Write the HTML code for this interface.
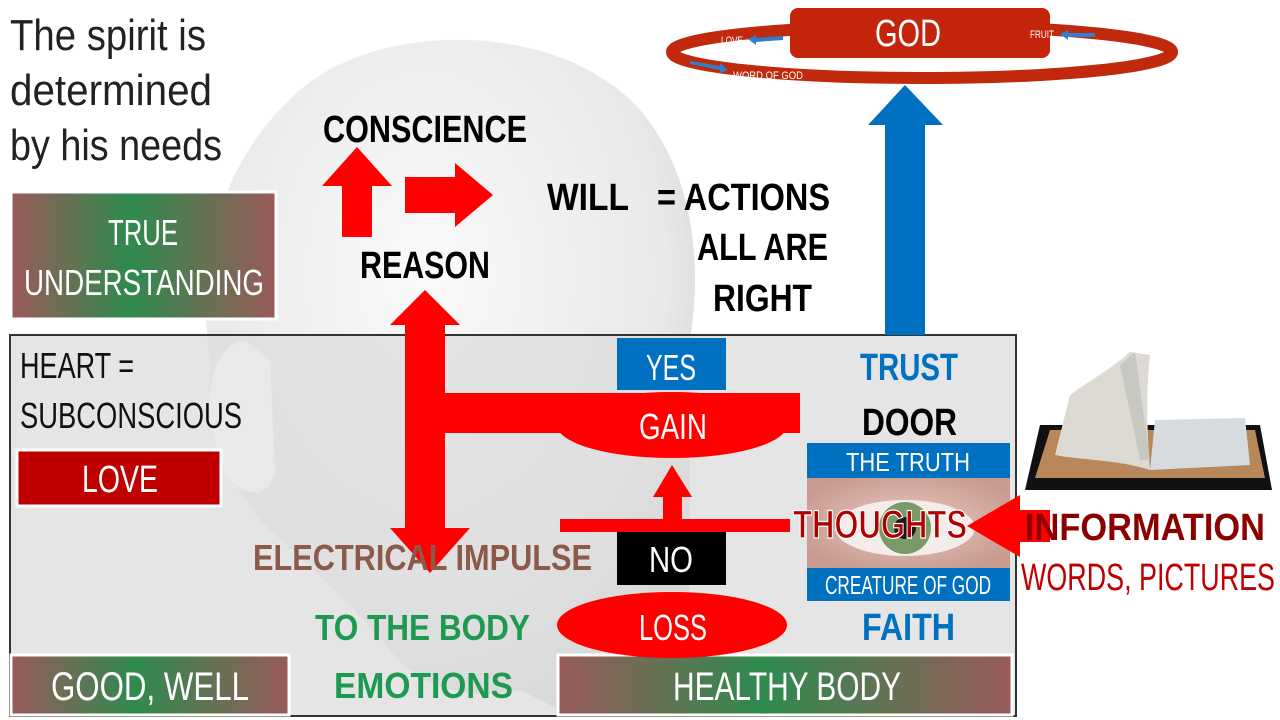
<!DOCTYPE html>
<html><head><meta charset="utf-8"><style>
html,body{margin:0;padding:0;background:#fff;width:1280px;height:720px;overflow:hidden}
svg{display:block}
text{font-family:"Liberation Sans",sans-serif}
</style></head><body>
<svg width="1280" height="720" viewBox="0 0 1280 720" xmlns="http://www.w3.org/2000/svg">
<defs>
<radialGradient id="head" cx="0.45" cy="0.35" r="0.7">
<stop offset="0" stop-color="#fafafa"/><stop offset="0.7" stop-color="#e8e8e8"/><stop offset="1" stop-color="#cfcfcf"/>
</radialGradient>
<linearGradient id="rg" x1="0" y1="0" x2="1" y2="0">
<stop offset="0" stop-color="#9a5a5a"/><stop offset="0.45" stop-color="#2e8a4e"/><stop offset="1" stop-color="#9a5a5a"/>
</linearGradient>
<radialGradient id="eye" cx="0.5" cy="0.5" r="0.6">
<stop offset="0" stop-color="#e8c8c0"/><stop offset="1" stop-color="#c89a90"/>
</radialGradient>
</defs>
<path d="M300,90 C380,20 560,20 640,110 C700,180 700,280 690,340 L690,700 L560,710 L520,690 C470,700 420,690 390,650 C330,580 300,560 260,520 C220,470 205,420 210,360 C195,260 220,160 300,90 Z" fill="url(#head)"/>
<rect x="10" y="335" width="1006" height="381" fill="#dcdcdc" fill-opacity="0.75" stroke="#333" stroke-width="2"/>
<path d="M245,340 C205,345 200,420 225,470 C240,500 270,500 275,470 L270,360 Z" fill="#ebebeb" fill-opacity="0.8"/>

<g fill="#222" font-size="44">
<text x="10" y="50" textLength="196" lengthAdjust="spacingAndGlyphs">The spirit is</text>
<text x="10" y="105" textLength="202" lengthAdjust="spacingAndGlyphs">determined</text>
<text x="10" y="160" textLength="212" lengthAdjust="spacingAndGlyphs">by his needs</text>
</g>
<rect x="11" y="192" width="265" height="127" fill="url(#rg)" stroke="#fff" stroke-width="3"/>
<text x="143" y="245" fill="#fff" font-size="36" text-anchor="middle" textLength="70" lengthAdjust="spacingAndGlyphs">TRUE</text>
<text x="144" y="295" fill="#fff" font-size="36" text-anchor="middle" textLength="240" lengthAdjust="spacingAndGlyphs">UNDERSTANDING</text>

<text x="20" y="378" fill="#111" font-size="36" textLength="114" lengthAdjust="spacingAndGlyphs">HEART =</text>
<text x="20" y="428" fill="#111" font-size="36" textLength="222" lengthAdjust="spacingAndGlyphs">SUBCONSCIOUS</text>
<rect x="17" y="450" width="204" height="56" fill="#c00000" stroke="#fff" stroke-width="3"/>
<text x="120" y="492" fill="#fff" font-size="38" text-anchor="middle" textLength="76" lengthAdjust="spacingAndGlyphs">LOVE</text>

<rect x="11" y="655" width="278" height="60" fill="url(#rg)" stroke="#fff" stroke-width="3"/>
<text x="150" y="700" fill="#fff" font-size="40" text-anchor="middle" textLength="198" lengthAdjust="spacingAndGlyphs">GOOD, WELL</text>
<rect x="558" y="655" width="454" height="60" fill="url(#rg)" stroke="#fff" stroke-width="3"/>
<text x="787" y="700" fill="#fff" font-size="40" text-anchor="middle" textLength="228" lengthAdjust="spacingAndGlyphs">HEALTHY BODY</text>

<g font-weight="bold" fill="#000" font-size="38">
<text x="323" y="142" textLength="204" lengthAdjust="spacingAndGlyphs">CONSCIENCE</text>
<text x="547" y="210" textLength="82" lengthAdjust="spacingAndGlyphs">WILL</text>
<text x="657" y="210" textLength="173" lengthAdjust="spacingAndGlyphs">= ACTIONS</text>
<text x="697" y="260" textLength="131" lengthAdjust="spacingAndGlyphs">ALL ARE</text>
<text x="713" y="311" textLength="99" lengthAdjust="spacingAndGlyphs">RIGHT</text>
<text x="360" y="278" textLength="130" lengthAdjust="spacingAndGlyphs">REASON</text>
</g>
<g fill="#f00">
<polygon points="357,147 392,186 372,186 372,237 342,237 342,186 322,186"/>
<polygon points="405,177 455,177 455,163 493,195 455,227 455,213 405,213"/>
<polygon points="425,290 460,325 445,325 445,393 405,393 405,325 390,325"/>
<polygon points="405,393 445,393 445,528 470,528 430,573 390,528 405,528"/>
<rect x="405" y="393" width="395" height="40"/>
<ellipse cx="672" cy="425" rx="115" ry="33"/>
<polygon points="672,465 692,497 682,497 682,520 663,520 663,497 653,497"/>
<rect x="560" y="519" width="230" height="13"/>
<ellipse cx="672" cy="625" rx="115" ry="33"/>
</g>
<rect x="617" y="338" width="109" height="52" fill="#0070c0"/>
<text x="671" y="380" fill="#fff" font-size="36" text-anchor="middle" textLength="50" lengthAdjust="spacingAndGlyphs">YES</text>
<text x="673" y="439" fill="#fff" font-size="36" text-anchor="middle" textLength="68" lengthAdjust="spacingAndGlyphs">GAIN</text>
<rect x="617" y="532" width="109" height="53" fill="#000"/>
<text x="671" y="572" fill="#fff" font-size="36" text-anchor="middle" textLength="44" lengthAdjust="spacingAndGlyphs">NO</text>
<text x="673" y="640" fill="#fff" font-size="36" text-anchor="middle" textLength="68" lengthAdjust="spacingAndGlyphs">LOSS</text>

<text x="253" y="570" fill="#8b5a48" font-weight="bold" font-size="36" textLength="339" lengthAdjust="spacingAndGlyphs">ELECTRICAL IMPULSE</text>
<text x="315" y="640" fill="#1e9a50" font-weight="bold" font-size="36" textLength="215" lengthAdjust="spacingAndGlyphs">TO THE BODY</text>
<text x="334" y="698" fill="#1e9a50" font-weight="bold" font-size="36" textLength="179" lengthAdjust="spacingAndGlyphs">EMOTIONS</text>

<text x="860" y="380" fill="#0070c0" font-weight="bold" font-size="38" textLength="98" lengthAdjust="spacingAndGlyphs">TRUST</text>
<text x="862" y="435" fill="#000" font-weight="bold" font-size="38" textLength="95" lengthAdjust="spacingAndGlyphs">DOOR</text>
<text x="862" y="640" fill="#0070c0" font-weight="bold" font-size="38" textLength="93" lengthAdjust="spacingAndGlyphs">FAITH</text>
<rect x="807" y="478" width="203" height="90" fill="url(#eye)"/>
<ellipse cx="905" cy="528" rx="70" ry="28" fill="#f3ece8"/>
<circle cx="905" cy="528" r="26" fill="#7a9a6a"/>
<circle cx="905" cy="528" r="11" fill="#1a1a1a"/>
<rect x="807" y="443" width="203" height="35" fill="#0070c0"/>
<text x="908" y="471" fill="#fff" font-size="26" text-anchor="middle" textLength="124" lengthAdjust="spacingAndGlyphs">THE TRUTH</text>
<rect x="807" y="568" width="203" height="33" fill="#0070c0"/>
<text x="908" y="594" fill="#fff" font-size="26" text-anchor="middle" textLength="166" lengthAdjust="spacingAndGlyphs">CREATURE OF GOD</text>
<polygon points="967,526 1020,495 1020,510 1050,510 1050,542 1020,542 1020,557" fill="#f00"/>
<text x="793" y="538" fill="#b00000" stroke="#fff" stroke-width="1.2" font-weight="bold" font-size="40" textLength="174" lengthAdjust="spacingAndGlyphs">THOUGHTS</text>

<text x="1025" y="540" fill="#8b0000" font-weight="bold" font-size="38" textLength="240" lengthAdjust="spacingAndGlyphs">INFORMATION</text>
<text x="1021" y="590" fill="#c00000" font-size="38" textLength="254" lengthAdjust="spacingAndGlyphs">WORDS, PICTURES</text>

<path d="M1025,490 L1040,425 L1260,425 L1272,490 Z" fill="#111"/>
<path d="M1035,478 L1050,430 L1255,430 L1265,478 Z" fill="#b8875a"/>
<path d="M1150,470 L1155,420 L1245,418 L1250,465 Z" fill="#d6dbe0"/>
<path d="M1150,470 C1120,460 1080,460 1055,455 L1070,395 C1090,380 1110,370 1130,352 L1150,355 C1145,400 1148,440 1150,470 Z" fill="#dcdad2"/>
<path d="M1140,460 L1120,365 L1135,352 L1150,460 Z" fill="#c8c8c2"/>

<polygon points="905,85 943,125 925,125 925,335 885,335 885,125 868,125" fill="#0070c0"/>

<ellipse cx="922" cy="52" rx="250" ry="26" fill="none" stroke="#c0290b" stroke-width="12"/>
<rect x="790" y="8" width="260" height="50" rx="8" fill="#c4250a"/>
<text x="908" y="46" fill="#fff" font-size="38" text-anchor="middle" textLength="66" lengthAdjust="spacingAndGlyphs">GOD</text>
<text x="721" y="44" fill="#fff" font-size="11" textLength="22" lengthAdjust="spacingAndGlyphs">LOVE</text>
<polygon points="748,39 756,35 756,38 783,36 783,40 756,42 756,45" fill="#2f7fd0"/>
<text x="1030" y="38" fill="#fff" font-size="11" textLength="24" lengthAdjust="spacingAndGlyphs">FRUIT</text>
<polygon points="1060,34 1068,30 1068,33 1095,33 1095,37 1068,37 1068,40" fill="#2f7fd0"/>
<polygon points="690,61 720,66 720,63 728,70 720,73 720,70 690,64" fill="#2f7fd0"/>
<text x="733" y="79" fill="#fff" font-size="11" textLength="70" lengthAdjust="spacingAndGlyphs">WORD OF GOD</text>
</svg>
</body></html>
